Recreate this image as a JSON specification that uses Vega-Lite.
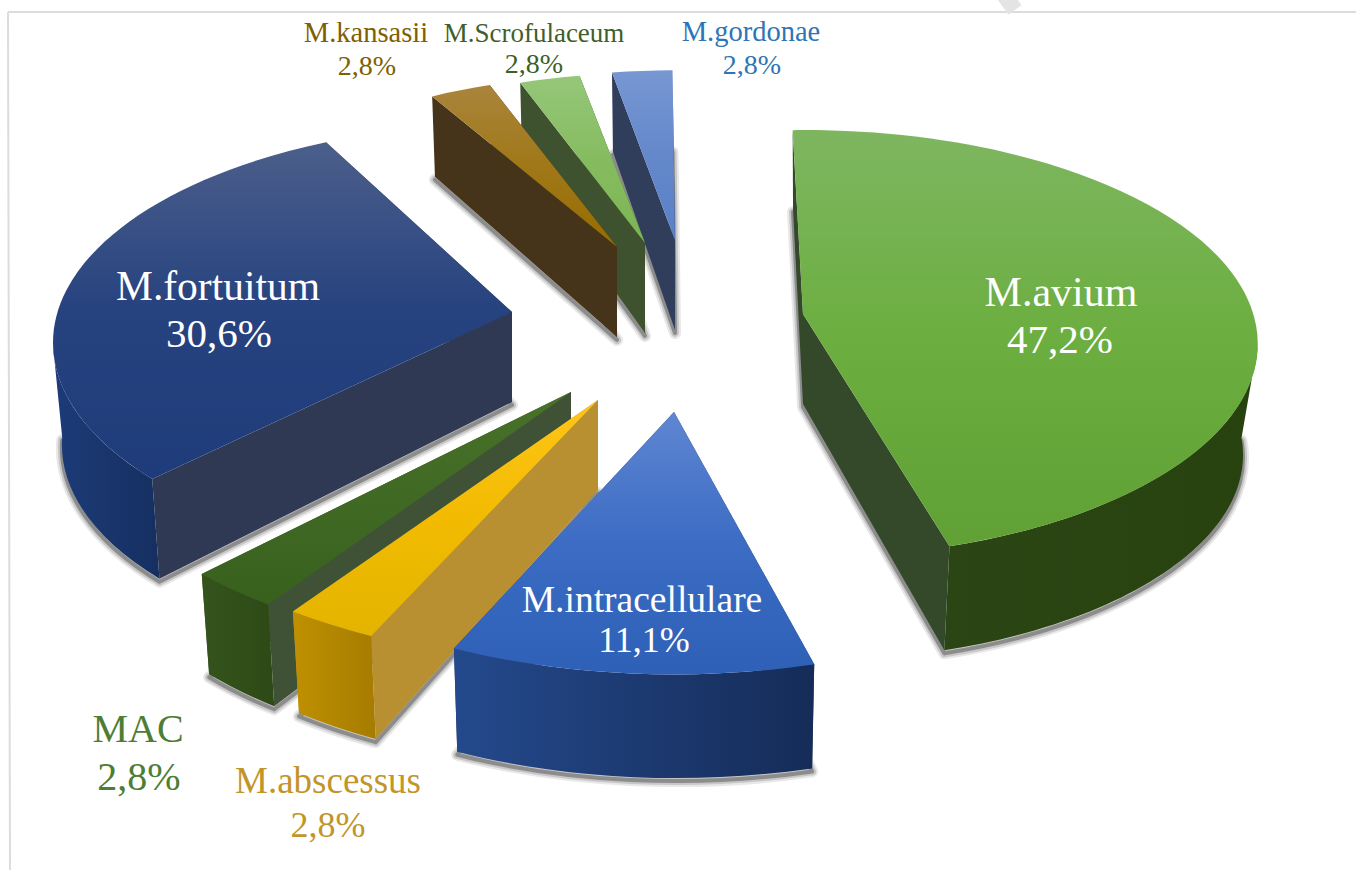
{
  "$schema": "https://vega.github.io/schema/vega-lite/v6.json",
  "width": 1356,
  "height": 870,
  "padding": 0,
  "autosize": "none",
  "background": "white",
  "config": {"view": {"stroke": null}},
  "data": {"values": [
    {"species": "M.avium", "share": 47.2},
    {"species": "M.intracellulare", "share": 11.1},
    {"species": "M.abscessus", "share": 2.8},
    {"species": "MAC", "share": 2.8},
    {"species": "M.fortuitum", "share": 30.6},
    {"species": "M.kansasii", "share": 2.8},
    {"species": "M.Scrofulaceum", "share": 2.8},
    {"species": "M.gordonae", "share": 2.8}
  ]},
  "transform": [
    {"window": [{"op": "row_number", "as": "seq"}]},
    {"joinaggregate": [{"op": "sum", "field": "share", "as": "total"}]},
    {"window": [{"op": "sum", "field": "share", "as": "cum"}], "sort": [{"field": "seq"}]},
    {"calculate": "{'M.avium':-1.5,'M.intracellulare':0,'M.abscessus':0.3,'MAC':0,'M.fortuitum':2,'M.kansasii':-1,'M.Scrofulaceum':-0.8,'M.gordonae':-0.4}[datum.species] * PI / 180", "as": "turn"},
    {"calculate": "(datum.cum - datum.share) / datum.total * 2 * PI + datum.turn", "as": "a0"},
    {"calculate": "datum.cum / datum.total * 2 * PI + datum.turn", "as": "a1"},
    {"calculate": "max(datum.a0, 1.72)", "as": "b0"},
    {"calculate": "min(datum.a1, 4.56)", "as": "b1"},
    {"calculate": "{'M.avium':[1,0.975,0.965],'M.intracellulare':[1.05,1.05,0.985],'M.abscessus':[1.07,1.05,0.98],'MAC':[1.07,1.05,0.98],'M.fortuitum':[1.01,1,0.98],'M.kansasii':[0.91,0.91,0.985],'M.Scrofulaceum':[0.9,0.9,0.985],'M.gordonae':[0.9,0.9,0.985]}[datum.species]", "as": "form"},
    {"calculate": "{'M.avium':[803,314],'M.intracellulare':[674,412],'M.abscessus':[598,400],'MAC':[571,392],'M.fortuitum':[512,312],'M.kansasii':[617,247],'M.Scrofulaceum':[645,243],'M.gordonae':[675,240]}[datum.species]", "as": "tip"},
    {"calculate": "round(4545 * datum.form[0]) / 10", "as": "rx"},
    {"calculate": "round(2193 * datum.form[1]) / 10", "as": "ry"},
    {"calculate": "round(100 * datum.form[0] * 450 * sin(datum.a0) / (1 + 0.14 * cos(datum.a0))) / 100", "as": "x0"},
    {"calculate": "round(-100 * datum.form[1] * 215 * cos(datum.a0) / (1 + 0.14 * cos(datum.a0))) / 100", "as": "y0"},
    {"calculate": "round(100 * datum.form[0] * 450 * sin(datum.a1) / (1 + 0.14 * cos(datum.a1))) / 100", "as": "x1"},
    {"calculate": "round(-100 * datum.form[1] * 215 * cos(datum.a1) / (1 + 0.14 * cos(datum.a1))) / 100", "as": "y1"},
    {"calculate": "round(100 * datum.form[0] * 450 * sin(datum.b0) / (1 + 0.14 * cos(datum.b0))) / 100", "as": "u0"},
    {"calculate": "round(-100 * datum.form[1] * 215 * cos(datum.b0) / (1 + 0.14 * cos(datum.b0))) / 100", "as": "v0"},
    {"calculate": "round(100 * datum.form[0] * 450 * sin(datum.b1) / (1 + 0.14 * cos(datum.b1))) / 100", "as": "u1"},
    {"calculate": "round(-100 * datum.form[1] * 215 * cos(datum.b1) / (1 + 0.14 * cos(datum.b1))) / 100", "as": "v1"},
    {"calculate": "round(100 * datum.form[2] * datum.x0) / 100 + ' ' + round(100 * (datum.y0 + 90 / (1 + 0.14 * cos(datum.a0)))) / 100", "as": "floor0"},
    {"calculate": "round(100 * datum.form[2] * datum.x1) / 100 + ' ' + round(100 * (datum.y1 + 90 / (1 + 0.14 * cos(datum.a1)))) / 100", "as": "floor1"},
    {"calculate": "round(100 * datum.form[2] * datum.u0) / 100 + ' ' + round(100 * (datum.v0 + 90 / (1 + 0.14 * cos(datum.b0)))) / 100", "as": "wallFloor0"},
    {"calculate": "round(100 * datum.form[2] * datum.u1) / 100 + ' ' + round(100 * (datum.v1 + 90 / (1 + 0.14 * cos(datum.b1)))) / 100", "as": "wallFloor1"},
    {"calculate": "datum.rx + ' ' + datum.ry + ' 0 0 1 '", "as": "arcCw"},
    {"calculate": "round(100 * datum.form[2] * datum.rx) / 100 + ' ' + round(100 * datum.form[2] * datum.ry) / 100 + ' 0 0 0 '", "as": "arcCcw"},
    {"calculate": "round(100 * datum.form[2] * datum.rx) / 100 + ' ' + round(100 * datum.form[2] * datum.ry) / 100 + ' 0 0 1 '", "as": "arcFloor"},
    {"calculate": "datum.b1 > datum.b0", "as": "hasWall"},
    {"calculate": "{'M.avium':['#7eb660','#6cae40','#60a035','#2b4614','#28420f','#34492a'],'M.intracellulare':['#5f86d2','#3c6cc4','#2d60b6','#24498c','#152c58','#2f3d5e'],'M.abscessus':['#ffc51a','#f2bb00','#e3b400','#bf9000','#a67c00','#b89032'],'MAC':['#487229','#406a24','#38601e','#35541c','#2d4a16','#3f5236'],'M.fortuitum':['#4c5f8b','#26427f','#1f3c7a','#1c3b78','#152f60','#2f3954'],'M.kansasii':['#aa843c','#a07818','#966c00','#7a5a10','#6a4c08','#453419'],'M.Scrofulaceum':['#95c778','#86bc60','#7cb552','#4a7030','#3e6028','#3e5230'],'M.gordonae':['#7797d3','#6488ca','#5a80c8','#3c5c98','#304c84','#303e5c']}[datum.species]", "as": "tones"},
    {"calculate": "{'M.avium':0,'M.gordonae':1,'M.Scrofulaceum':2,'M.kansasii':3,'M.fortuitum':4,'MAC':5,'M.abscessus':6,'M.intracellulare':7}[datum.species]", "as": "depthRank"}
  ],
  "layer": [
    {
      "description": "Page frame and the faint corner stripe",
      "data": {"values": [{}]},
      "mark": {"type": "rule", "color": "#dcdcdc", "strokeWidth": 2},
      "encoding": {
        "x": {"datum": 8, "type": "quantitative", "axis": null, "scale": {"domain": [0, 1356], "nice": false, "zero": false}},
        "x2": {"datum": 10},
        "y": {"datum": 12, "type": "quantitative", "axis": null, "scale": {"domain": [0, 870], "reverse": true, "nice": false, "zero": false}},
        "y2": {"datum": 870}
      }
    },
    {
      "data": {"values": [{}]},
      "mark": {"type": "rule", "color": "#dcdcdc", "strokeWidth": 2},
      "encoding": {
        "x": {"datum": 8, "type": "quantitative", "axis": null},
        "x2": {"datum": 1356},
        "y": {"datum": 12, "type": "quantitative", "axis": null}
      }
    },
    {
      "data": {"values": [{}]},
      "mark": {"type": "rule", "color": "#e4e4e4", "strokeWidth": 16},
      "encoding": {
        "x": {"datum": 1002, "type": "quantitative", "axis": null},
        "x2": {"datum": 1015},
        "y": {"datum": -8, "type": "quantitative", "axis": null},
        "y2": {"datum": 10}
      }
    },
    {
      "description": "Exploded 3D slices: each share becomes a perspective sector with side walls and a soft contact shadow",
      "transform": [
        {"calculate": "(datum.hasWall ? 'M' + datum.wallFloor0 + 'A' + datum.arcFloor + datum.wallFloor1 : '') + 'M' + datum.floor0 + 'L0 90L' + datum.floor1", "as": "floorEdge"},
        {"calculate": "'M0 0L' + datum.x0 + ' ' + datum.y0 + 'L' + datum.floor0 + 'L0 90Z'", "as": "cutA"},
        {"calculate": "'M0 0L' + datum.x1 + ' ' + datum.y1 + 'L' + datum.floor1 + 'L0 90Z'", "as": "cutB"},
        {"calculate": "datum.hasWall ? 'M' + datum.u0 + ' ' + datum.v0 + 'A' + datum.arcCw + datum.u1 + ' ' + datum.v1 + 'L' + datum.wallFloor1 + 'A' + datum.arcCcw + datum.wallFloor0 + 'Z' : 'M0 0'", "as": "wall"},
        {"calculate": "'M0 0L' + datum.x0 + ' ' + datum.y0 + 'A' + datum.arcCw + datum.x1 + ' ' + datum.y1 + 'Z'", "as": "face"},
        {"calculate": "{gradient:'linear',x1:0,y1:0,x2:0,y2:1,stops:[{offset:0,color:datum.tones[0]},{offset:0.5,color:datum.tones[1]},{offset:1,color:datum.tones[2]}]}", "as": "faceFill"},
        {"calculate": "{gradient:'linear',x1:0,y1:0,x2:1,y2:0,stops:[{offset:0,color:datum.tones[3]},{offset:1,color:datum.tones[4]}]}", "as": "wallFill"},
        {"calculate": "[{path:datum.floorEdge,fill:'#444',paint:-30,sw:12,so:0.12,dy:3},{path:datum.floorEdge,fill:'#444',paint:-20,sw:8,so:0.2,dy:3},{path:datum.floorEdge,fill:'#444',paint:-10,sw:4,so:0.45,dy:3},{path:datum.cutA,fill:datum.tones[5],paint:datum.depthRank*10+1,sw:0,so:0,dy:0},{path:datum.cutB,fill:datum.tones[5],paint:datum.depthRank*10+2,sw:0,so:0,dy:0},{path:datum.wall,fill:datum.wallFill,paint:datum.depthRank*10+3,sw:0,so:0,dy:0},{path:datum.face,fill:datum.faceFill,paint:datum.depthRank*10+4,sw:0,so:0,dy:0}]", "as": "parts"},
        {"flatten": ["parts"], "as": ["part"]},
        {"calculate": "datum.part.path", "as": "partPath"},
        {"calculate": "datum.part.fill", "as": "partFill"},
        {"calculate": "datum.part.paint", "as": "paint"},
        {"calculate": "datum.part.sw", "as": "edgeWidth"},
        {"calculate": "datum.part.so", "as": "edgeOpacity"},
        {"calculate": "datum.part.sw > 0 ? 0 : 1", "as": "bodyOpacity"},
        {"calculate": "datum.tip[0]", "as": "tipX"},
        {"calculate": "datum.tip[1] + datum.part.dy", "as": "tipY"}
      ],
      "mark": {"type": "point", "filled": true, "size": 4, "opacity": 1, "strokeCap": "round", "strokeJoin": "round"},
      "encoding": {
        "x": {"field": "tipX", "type": "quantitative", "axis": null},
        "y": {"field": "tipY", "type": "quantitative", "axis": null},
        "shape": {"field": "partPath", "type": "nominal", "scale": null},
        "fill": {"field": "partFill", "type": "nominal", "scale": null},
        "stroke": {"value": "#444444"},
        "strokeWidth": {"field": "edgeWidth", "type": "quantitative", "scale": null},
        "strokeOpacity": {"field": "edgeOpacity", "type": "quantitative", "scale": null},
        "fillOpacity": {"field": "bodyOpacity", "type": "quantitative", "scale": null},
        "order": {"field": "paint", "type": "quantitative"}
      }
    },
    {
      "description": "Species names",
      "transform": [
        {"calculate": "{'M.avium':[1061,306,353,42,'#ffffff'],'M.intracellulare':[642,612,652,37.5,'#ffffff'],'M.abscessus':[328,793,837,37,'#c1952a'],'MAC':[138,742,790,40,'#4e7d34'],'M.fortuitum':[218,300,347,41.5,'#ffffff'],'M.kansasii':[366,42,75,28.5,'#7f6000'],'M.Scrofulaceum':[534,42,73,27,'#3f5f2a'],'M.gordonae':[751,41,74,28.5,'#2e75b6']}[datum.species]", "as": "lab"},
        {"calculate": "datum.lab[0]", "as": "labelX"},
        {"calculate": "datum.lab[1]", "as": "labelY"},
        {"calculate": "datum.lab[3]", "as": "labelSize"},
        {"calculate": "datum.lab[4]", "as": "labelColor"}
      ],
      "mark": {"type": "text", "font": "Liberation Serif", "align": "center", "baseline": "alphabetic"},
      "encoding": {
        "x": {"field": "labelX", "type": "quantitative", "axis": null},
        "y": {"field": "labelY", "type": "quantitative", "axis": null},
        "text": {"field": "species"},
        "size": {"field": "labelSize", "type": "quantitative", "scale": null},
        "color": {"field": "labelColor", "type": "nominal", "scale": null}
      }
    },
    {
      "description": "Share labels with a decimal comma",
      "transform": [
        {"calculate": "{'M.avium':[1060,306,353,41,'#ffffff'],'M.intracellulare':[644,612,652,36,'#ffffff'],'M.abscessus':[328,793,837,36,'#c1952a'],'MAC':[139,742,790,40,'#4e7d34'],'M.fortuitum':[219,300,347,41,'#ffffff'],'M.kansasii':[367,42,75,28,'#7f6000'],'M.Scrofulaceum':[534,42,73,28,'#3f5f2a'],'M.gordonae':[752,41,74,28,'#2e75b6']}[datum.species]", "as": "lab"},
        {"calculate": "datum.lab[0]", "as": "labelX"},
        {"calculate": "datum.lab[2]", "as": "labelY"},
        {"calculate": "datum.lab[3]", "as": "labelSize"},
        {"calculate": "datum.lab[4]", "as": "labelColor"},
        {"calculate": "replace(format(datum.share, '.1f'), '.', ',') + '%'", "as": "shareText"}
      ],
      "mark": {"type": "text", "font": "Liberation Serif", "align": "center", "baseline": "alphabetic"},
      "encoding": {
        "x": {"field": "labelX", "type": "quantitative", "axis": null},
        "y": {"field": "labelY", "type": "quantitative", "axis": null},
        "text": {"field": "shareText"},
        "size": {"field": "labelSize", "type": "quantitative", "scale": null},
        "color": {"field": "labelColor", "type": "nominal", "scale": null}
      }
    }
  ]
}
